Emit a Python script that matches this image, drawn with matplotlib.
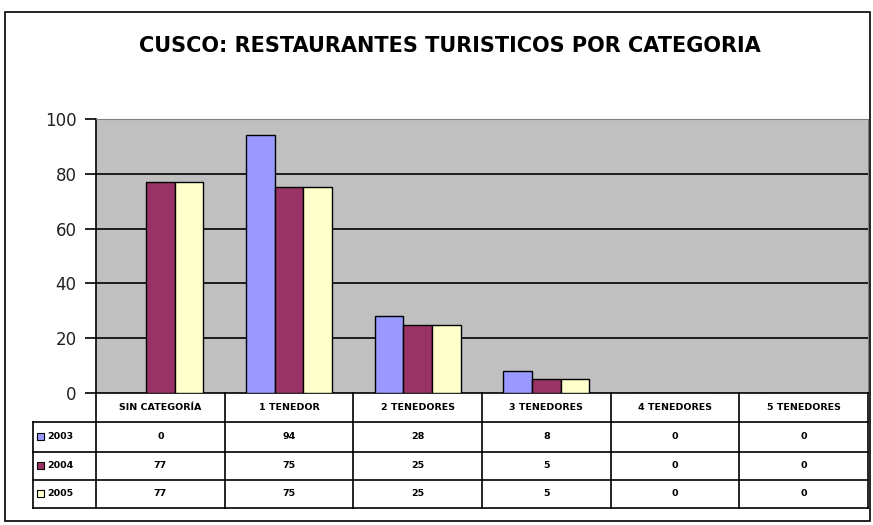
"""Cusco: restaurantes turísticos por categoría (barras + tabla de datos)."""

import matplotlib
import matplotlib.pyplot as plt
import numpy as np
from matplotlib.patches import Rectangle

matplotlib.use("Agg")

categorias = ["SIN CATEGORÍA", "1 TENEDOR", "2 TENEDORES",
              "3 TENEDORES", "4 TENEDORES", "5 TENEDORES"]
anios = ["2003", "2004", "2005"]
v2003 = [0, 94, 28, 8, 0, 0]
v2004 = [77, 75, 25, 5, 0, 0]
v2005 = [77, 75, 25, 5, 0, 0]
series = [v2003, v2004, v2005]
colores = ["#9999FF", "#993366", "#FFFFCC"]

W, H = 873, 525


def fx(px):
    return px / W


def fy(py):
    return 1 - py / H


fig = plt.figure(figsize=(W / 100, H / 100), dpi=100)

# cadre de la figure
fig.patches.append(Rectangle((fx(5), fy(521)), fx(865), 509 / H,
                             transform=fig.transFigure, fill=False,
                             edgecolor="black", linewidth=1.2))

fig.text(fx(450), fy(46), "CUSCO: RESTAURANTES TURISTICOS POR CATEGORIA",
         ha="center", va="center", fontsize=15, fontweight="bold",
         family=["DejaVu Sans Condensed", "DejaVu Sans"])

# zone du graphique
L, R, T, B = 96, 868, 119, 393
ax = fig.add_axes([fx(L), fy(B), fx(R - L), (B - T) / H])
ax.set_facecolor("#C0C0C0")
n = len(categorias)
x = np.arange(n)
bw = 1 / 4.5
for i, (vals, c) in enumerate(zip(series, colores)):
    ax.bar(x + (i - 1) * bw, vals, bw, color=c, edgecolor="black",
           linewidth=1, zorder=3)
ax.set_xlim(-0.5, n - 0.5)
ax.set_ylim(0, 100)
ax.set_yticks(range(0, 101, 20))
ax.tick_params(axis="y", length=8, width=1.2, direction="out",
               labelsize=12, pad=6, labelcolor="#222222")
ax.set_xticks([])
for yv in range(20, 101, 20):
    ax.axhline(yv, color="black", linewidth=1.2, zorder=1)
ax.spines["left"].set_linewidth(1.2)
ax.spines["bottom"].set_linewidth(1.2)
ax.spines["top"].set_color("#808080")
ax.spines["right"].set_color("#808080")

# tableau de données sous le graphique
cw = (R - L) / n
TL = 33
tb = fig.add_axes([fx(TL), fy(508), fx(R - TL), (508 - B) / H])
tb.set_xlim(-0.5 - (L - TL) / cw, n - 0.5)
tb.set_ylim(508, B)
tb.axis("off")
rows = [B, 422, 452, 480, 508]
lw = 1.2
kw = dict(color="black", linewidth=lw, clip_on=False)
x_leg = -0.5 - (L - TL) / cw
for k in range(n + 1):
    tb.plot([k - 0.5, k - 0.5], [B, 508], **kw)
tb.plot([x_leg, x_leg], [rows[1], 508], **kw)
for yr in rows[1:]:
    tb.plot([x_leg, n - 0.5], [yr, yr], **kw)

fnt = dict(fontsize=6.8, fontweight="bold", family="DejaVu Sans Condensed")
for k, cat in enumerate(categorias):
    tb.text(k, (rows[0] + rows[1]) / 2, cat, ha="center", va="center", **fnt)
for r, (anio, vals, c) in enumerate(zip(anios, series, colores)):
    ym = (rows[r + 1] + rows[r + 2]) / 2
    tb.add_patch(Rectangle((x_leg + 4 / cw, ym - 3.5), 7 / cw, 7,
                           facecolor=c, edgecolor="black", linewidth=0.8))
    tb.text(x_leg + 14 / cw, ym, anio, ha="left", va="center", **fnt)
    for k, v in enumerate(vals):
        tb.text(k, ym, str(v), ha="center", va="center", **fnt)

fig.savefig("out.png", dpi=100)
